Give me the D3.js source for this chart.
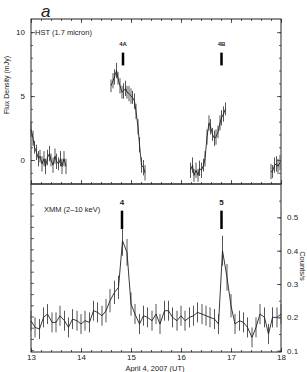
<!DOCTYPE html>
<html>
<head>
<meta charset="utf-8">
<script src="https://cdn.jsdelivr.net/npm/d3@7"></script>
<style>
  body { margin: 0; background: #fff; }
  svg text { font-family: "Liberation Sans", Arial, sans-serif; fill: #222; }
</style>
</head>
<body>
<div id="chart"></div>
<script>
// HST 1.7 micron light curve (hours UT, mJy)
const hstTime = [
  13.00, 13.04, 13.07, 13.11, 13.15, 13.18, 13.22, 13.26, 13.29, 13.33,
  13.37, 13.40, 13.44, 13.48, 13.51, 13.55, 13.59, 13.62, 13.66, 13.70,
  14.60, 14.64, 14.67, 14.71, 14.74, 14.78, 14.82, 14.85, 14.89, 14.92,
  14.96, 15.00, 15.03, 15.07, 15.10, 15.14, 15.17, 15.21, 15.25, 15.28,
  16.19, 16.23, 16.26, 16.30, 16.34, 16.37, 16.41, 16.45, 16.48, 16.52,
  16.56, 16.59, 16.63, 16.67, 16.70, 16.74, 16.78, 16.81, 16.85, 16.89,
  17.80, 17.83, 17.87, 17.91, 17.94, 17.98
];
const hstFlux = [
  2.4, 1.7, 1.0, 0.6, 0.1, 0.3, -0.3, 0.1, -0.5, 0.2,
  0.5, 0.0, -0.4, 0.3, -0.1, -0.3, 0.1, -0.5, 0.1, -0.5,
  5.8, 6.2, 6.5, 7.0, 6.4, 5.8, 5.3, 5.4, 5.6, 5.3,
  5.2, 5.0, 4.9, 4.6, 3.8, 2.6, 1.2, -0.4, -0.6, -1.0,
  -0.8, -0.4, -1.2, -0.8, -1.2, -0.65, -0.8, -0.4, 0.1, 1.8,
  2.9, 2.6, 2.0, 1.7, 1.8, 2.2, 2.9, 3.3, 3.6, 4.0,
  -0.9, -0.9, -0.4, -0.3, -0.5, -0.2
];
const hstErr = [
  0.6, 0.6, 0.5, 0.6, 0.6, 0.5, 0.6, 0.6, 0.6, 0.6,
  0.6, 0.5, 0.6, 0.6, 0.6, 0.5, 0.6, 0.6, 0.6, 0.6,
  0.5, 0.6, 0.6, 0.6, 0.5, 0.6, 0.5, 0.6, 0.6, 0.5,
  0.6, 0.6, 0.5, 0.6, 0.6, 0.6, 0.6, 0.6, 0.6, 0.6,
  0.6, 0.6, 0.5, 0.6, 0.5, 0.6, 0.6, 0.5, 0.6, 0.6,
  0.6, 0.6, 0.5, 0.6, 0.6, 0.5, 0.6, 0.6, 0.6, 0.5,
  0.6, 0.5, 0.6, 0.6, 0.6, 0.6
];

// XMM 2-10 keV light curve, 5 min bins (counts/s)
const xmmTime = [
  13.00, 13.08, 13.17, 13.25, 13.33, 13.42, 13.50, 13.58, 13.67, 13.75, 13.83, 13.92,
  14.00, 14.08, 14.17, 14.25, 14.33, 14.42, 14.50, 14.58, 14.67, 14.75, 14.83, 14.92,
  15.00, 15.08, 15.17, 15.25, 15.33, 15.42, 15.50, 15.58, 15.67, 15.75, 15.83, 15.92,
  16.00, 16.08, 16.17, 16.25, 16.33, 16.42, 16.50, 16.58, 16.67, 16.75, 16.83, 16.92,
  17.00, 17.08, 17.17, 17.25, 17.33, 17.42, 17.50, 17.58, 17.67, 17.75, 17.83, 17.92,
  18.00
];
const xmmRate = [
  0.19, 0.17, 0.165, 0.20, 0.21, 0.185, 0.185, 0.205, 0.19, 0.17, 0.195, 0.19,
  0.18, 0.19, 0.185, 0.22, 0.215, 0.205, 0.22, 0.25, 0.275, 0.29, 0.43, 0.395,
  0.24, 0.21, 0.18, 0.205, 0.20, 0.19, 0.21, 0.18, 0.22, 0.22, 0.20, 0.19,
  0.205, 0.19, 0.20, 0.205, 0.215, 0.21, 0.205, 0.20, 0.195, 0.18, 0.40, 0.32,
  0.235, 0.18, 0.19, 0.185, 0.17, 0.14, 0.17, 0.21, 0.20, 0.15, 0.20, 0.20,
  0.21
];
const xmmErr = [
  0.03, 0.03, 0.03, 0.03, 0.03, 0.03, 0.03, 0.03, 0.03, 0.03, 0.03, 0.03,
  0.03, 0.03, 0.03, 0.03, 0.03, 0.03, 0.035, 0.035, 0.035, 0.035, 0.045, 0.04,
  0.035, 0.03, 0.03, 0.03, 0.03, 0.03, 0.03, 0.03, 0.03, 0.03, 0.03, 0.03,
  0.03, 0.03, 0.03, 0.03, 0.03, 0.03, 0.03, 0.03, 0.03, 0.03, 0.045, 0.04,
  0.035, 0.03, 0.03, 0.03, 0.03, 0.03, 0.03, 0.03, 0.03, 0.03, 0.03, 0.03,
  0.03
];

// flare markers
const hstFlareTime = [14.84, 16.81];
const hstFlareName = ["4A", "4B"];
const xmmFlareTime = [14.82, 16.81];
const xmmFlareName = ["4", "5"];

const xTicks = [13, 14, 15, 16, 17, 18];
const hstTicks = [0, 5, 10];
const xmmTicks = [0.1, 0.2, 0.3, 0.4, 0.5];

const width = 307, height = 372;
const left = 31, right = 281;
const top1 = 19, mid = 184, bottom2 = 352;

const svg = d3.select('#chart').append('svg')
  .attr('width', width)
  .attr('height', height);

const x = d3.scaleLinear().domain([13, 18]).range([left, right]);
const yHst = d3.scaleLinear().domain([-1.875, 11.03]).range([mid, top1]);
const yXmm = d3.scaleLinear().domain([0.0962, 0.6]).range([bottom2, mid]);
const yLeft2 = d3.scaleLinear().domain([-0.17, 14.83]).range([bottom2, mid]); // unlabeled left scale of lower panel

const xMinor = d3.range(13, 18.001, 0.2).map(d => +d.toFixed(1));

function styleAxis(g) {
  g.select('.domain').remove();
  g.selectAll('line').attr('stroke', '#333').attr('stroke-width', 0.8);
  g.selectAll('text').attr('font-size', 8).attr('fill', '#222');
}

// x ticks on every horizontal edge
function xEdge(y, labels) {
  svg.append('g').attr('transform', `translate(0,${y})`)
    .call(d3.axisBottom(x).tickValues(xMinor).tickFormat('').tickSizeInner(-2).tickSizeOuter(0))
    .call(styleAxis);
  svg.append('g').attr('transform', `translate(0,${y})`)
    .call(d3.axisBottom(x).tickValues(xTicks).tickFormat(labels ? d3.format('d') : '')
      .tickSizeInner(-4).tickSizeOuter(0).tickPadding(2))
    .call(styleAxis);
}
svg.append('g').attr('transform', `translate(0,${top1})`)
  .call(d3.axisTop(x).tickValues(xMinor).tickFormat('').tickSizeInner(-2).tickSizeOuter(0))
  .call(styleAxis);
svg.append('g').attr('transform', `translate(0,${top1})`)
  .call(d3.axisTop(x).tickValues(xTicks).tickFormat('').tickSizeInner(-4).tickSizeOuter(0))
  .call(styleAxis);
xEdge(mid, false);
xEdge(bottom2, true);

// top panel y ticks
const hstMinor = d3.range(-1, 11, 1);
svg.append('g').attr('transform', `translate(${left},0)`)
  .call(d3.axisLeft(yHst).tickValues(hstMinor).tickFormat('').tickSizeInner(-2).tickSizeOuter(0))
  .call(styleAxis);
svg.append('g').attr('transform', `translate(${left},0)`)
  .call(d3.axisLeft(yHst).tickValues(hstTicks).tickSizeInner(-4).tickSizeOuter(0).tickPadding(6))
  .call(styleAxis);
svg.append('g').attr('transform', `translate(${right},0)`)
  .call(d3.axisRight(yHst).tickValues(hstMinor).tickFormat('').tickSizeInner(-2).tickSizeOuter(0))
  .call(styleAxis);
svg.append('g').attr('transform', `translate(${right},0)`)
  .call(d3.axisRight(yHst).tickValues(hstTicks).tickFormat('').tickSizeInner(-4).tickSizeOuter(0))
  .call(styleAxis);

// bottom panel y ticks
svg.append('g').attr('transform', `translate(${left},0)`)
  .call(d3.axisLeft(yLeft2).tickValues(d3.range(0, 15, 1)).tickFormat('').tickSizeInner(-3).tickSizeOuter(0))
  .call(styleAxis);
svg.append('g').attr('transform', `translate(${right},0)`)
  .call(d3.axisRight(yXmm).tickValues(d3.range(0.1, 0.6, 0.05)).tickFormat('').tickSizeInner(-2).tickSizeOuter(0))
  .call(styleAxis);
svg.append('g').attr('transform', `translate(${right},0)`)
  .call(d3.axisRight(yXmm).tickValues(xmmTicks).tickFormat(d3.format('.1f'))
    .tickSizeInner(-4).tickSizeOuter(0).tickPadding(6))
  .call(styleAxis);

// frames
svg.append('rect').attr('x', left).attr('y', top1).attr('width', right - left).attr('height', mid - top1)
  .attr('fill', 'none').attr('stroke', '#222').attr('stroke-width', 1);
svg.append('rect').attr('x', left).attr('y', mid).attr('width', right - left).attr('height', bottom2 - mid)
  .attr('fill', 'none').attr('stroke', '#222').attr('stroke-width', 1);

// HST data, split into visits
const hst = hstTime.map((t, i) => ({ t, v: hstFlux[i], e: hstErr[i] }));
const hstSegs = [];
hst.forEach((d, i) => {
  if (i === 0 || d.t - hst[i - 1].t > 0.2) hstSegs.push([]);
  hstSegs[hstSegs.length - 1].push(d);
});

svg.append('g').selectAll('line').data(hst).join('line')
  .attr('x1', d => x(d.t)).attr('x2', d => x(d.t))
  .attr('y1', d => yHst(d.v - d.e)).attr('y2', d => yHst(d.v + d.e))
  .attr('stroke', '#555').attr('stroke-width', 1);

const lineHst = d3.line().x(d => x(d.t)).y(d => yHst(d.v));
svg.append('g').selectAll('path').data(hstSegs).join('path')
  .attr('d', lineHst).attr('fill', 'none').attr('stroke', '#222').attr('stroke-width', 0.9);

// XMM data
const xmm = xmmTime.map((t, i) => ({ t, v: xmmRate[i], e: xmmErr[i] }));
svg.append('g').selectAll('line').data(xmm).join('line')
  .attr('x1', d => x(d.t)).attr('x2', d => x(d.t))
  .attr('y1', d => yXmm(d.v - d.e)).attr('y2', d => yXmm(d.v + d.e))
  .attr('stroke', '#555').attr('stroke-width', 1);
svg.append('path').datum(xmm)
  .attr('d', d3.line().x(d => x(d.t)).y(d => yXmm(d.v)))
  .attr('fill', 'none').attr('stroke', '#222').attr('stroke-width', 0.9);

// flare markers
hstFlareTime.forEach((t, i) => {
  svg.append('line').attr('x1', x(t)).attr('x2', x(t))
    .attr('y1', yHst(8.4)).attr('y2', yHst(7.4))
    .attr('stroke', '#000').attr('stroke-width', 2.5);
  svg.append('text').attr('x', x(t)).attr('y', yHst(8.9))
    .attr('text-anchor', 'middle').attr('font-size', 6).attr('font-weight', 'bold')
    .text(hstFlareName[i]);
});
xmmFlareTime.forEach((t, i) => {
  svg.append('line').attr('x1', x(t)).attr('x2', x(t))
    .attr('y1', yXmm(0.52)).attr('y2', yXmm(0.465))
    .attr('stroke', '#000').attr('stroke-width', 2.5);
  svg.append('text').attr('x', x(t)).attr('y', yXmm(0.537))
    .attr('text-anchor', 'middle').attr('font-size', 8).attr('font-weight', 'bold')
    .text(xmmFlareName[i]);
});

// labels
svg.append('text').attr('x', 41).attr('y', 17)
  .attr('font-size', 17).attr('font-style', 'italic').attr('fill', '#111').text('a');
svg.append('text').attr('x', 35).attr('y', 35).attr('font-size', 7.5).text('HST (1.7 micron)');
svg.append('text').attr('x', 44).attr('y', 212).attr('font-size', 7.5).text('XMM (2\u201310 keV)');
svg.append('text').attr('transform', 'translate(9,85) rotate(-90)')
  .attr('text-anchor', 'middle').attr('font-size', 7).text('Flux Density (mJy)');
svg.append('text').attr('transform', 'translate(300,266) rotate(90)')
  .attr('text-anchor', 'middle').attr('font-size', 7.5).text('Counts/s');
svg.append('text').attr('x', 155).attr('y', 371)
  .attr('text-anchor', 'middle').attr('font-size', 7.5).text('April 4, 2007 (UT)');
</script>
</body>
</html>
